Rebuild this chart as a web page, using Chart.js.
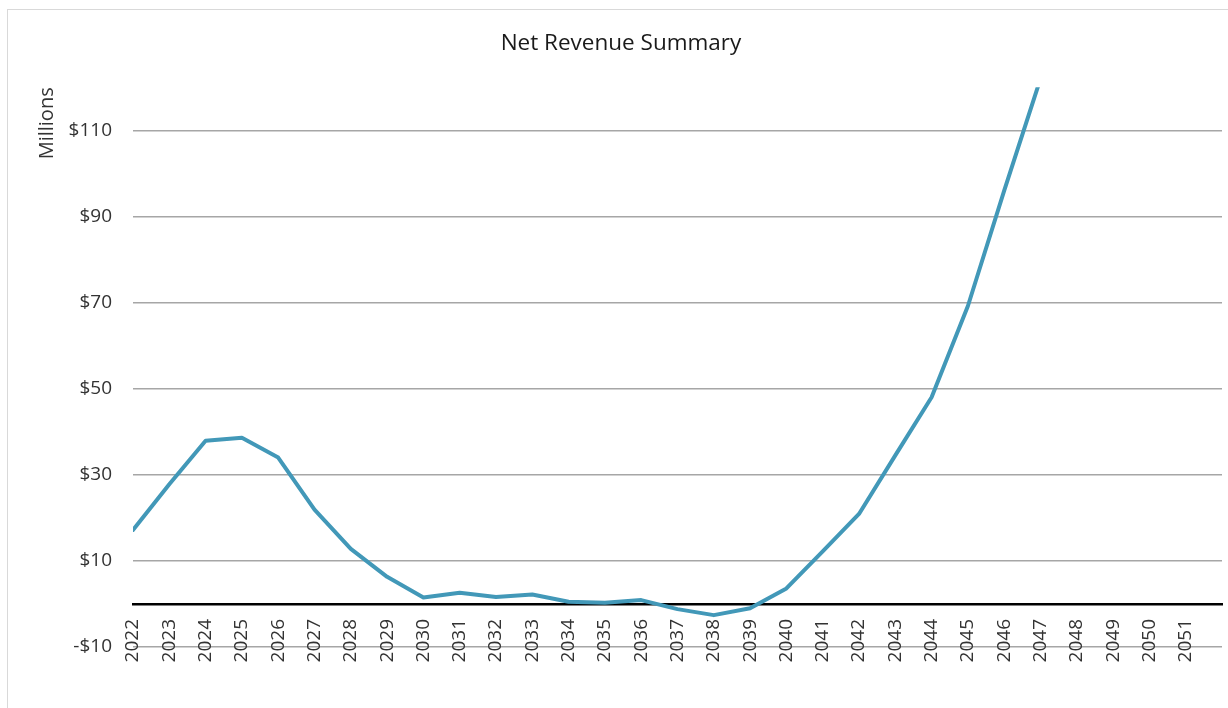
<!DOCTYPE html>
<html lang="en">
<head>
    <meta charset="UTF-8">
    <title>Net Revenue Summary</title>
    <script src="https://cdn.jsdelivr.net/npm/chart.js"></script>
    <style>
        body {
            margin: 0;
            background: #ffffff;
            overflow: hidden;
        }

        .frame {
            position: absolute;
            left: 7px;
            top: 9px;
            width: 1260px;
            height: 740px;
            border: 1.5px solid #d9d9d9;
        }

        #revenueChart {
            position: absolute;
            left: 0;
            top: 0;
        }
    </style>
</head>
<body>
    <div class="frame"></div>
    <canvas id="revenueChart" width="1228" height="708"></canvas>

    <script>
        // Years on the category axis
        const years = ['2022', '2023', '2024', '2025', '2026', '2027', '2028', '2029', '2030', '2031',
                       '2032', '2033', '2034', '2035', '2036', '2037', '2038', '2039', '2040', '2041',
                       '2042', '2043', '2044', '2045', '2046', '2047', '2048', '2049', '2050', '2051'];

        // Net revenue in $ millions, 2022 onwards
        const netRevenue = [17.2, 27.8, 37.9, 38.6, 34.0, 21.9, 12.8, 6.3, 1.5, 2.6,
                            1.6, 2.2, 0.5, 0.3, 0.9, -1.2, -2.6, -1.0, 3.6, 12.2,
                            20.9, 34.5, 48.0, 69.2, 96.0, 122.0];

        const yTicks = [-10, 10, 30, 50, 70, 90, 110];

        const fontFamily = "'Open Sans', sans-serif";

        // one blank slot after 2051 so the axis runs on past the last label
        const axisLabels = [...years, ''];

        function money(v) {
            return v < 0 ? '-$' + Math.abs(v) : '$' + v;
        }

        const ctx = document.getElementById('revenueChart').getContext('2d');
        new Chart(ctx, {
            type: 'line',
            data: {
                labels: axisLabels,
                datasets: [{
                    label: 'Net Revenue',
                    data: netRevenue,
                    borderColor: '#4298b8',
                    borderWidth: 4,
                    borderCapStyle: 'round',
                    borderJoinStyle: 'round',
                    pointRadius: 0,
                    tension: 0,
                    fill: false,
                    clip: 0
                }]
            },
            options: {
                responsive: false,
                animation: false,
                devicePixelRatio: 1,
                layout: {
                    padding: { left: 20, right: 6, top: 0, bottom: 61 }
                },
                plugins: {
                    legend: { display: false },
                    tooltip: { enabled: false },
                    title: {
                        display: true,
                        text: 'Net Revenue Summary',
                        color: '#1a1a1a',
                        font: { family: fontFamily, size: 22.5, weight: 'normal' },
                        padding: { top: 30, bottom: 30.3 }
                    }
                },
                scales: {
                    x: {
                        position: { y: 0 },
                        offset: false,
                        afterFit: scale => {
                            // rotated labels should not push the plot edges inwards
                            scale.paddingLeft = 0;
                            scale.paddingRight = 0;
                        },
                        grid: { display: false, drawTicks: false },
                        border: { display: true, color: '#000000', width: 2.5 },
                        ticks: {
                            autoSkip: false,
                            minRotation: 90,
                            maxRotation: 90,
                            padding: 15,
                            color: '#333333',
                            font: { family: fontFamily, size: 19 }
                        }
                    },
                    y: {
                        min: -10,
                        max: 120,
                        afterBuildTicks: scale => {
                            scale.ticks = yTicks.map(v => ({ value: v }));
                        },
                        afterFit: scale => {
                            scale.width = 113;
                        },
                        grid: { color: '#a6a6a6', lineWidth: 1.5, drawTicks: false },
                        border: { display: false },
                        ticks: {
                            padding: 21,
                            color: '#333333',
                            font: { family: fontFamily, size: 19 },
                            callback: v => money(v)
                        },
                        title: {
                            display: true,
                            text: 'Millions',
                            align: 'end',
                            color: '#333333',
                            font: { family: fontFamily, size: 20 },
                            padding: { top: 15, bottom: 0 }
                        }
                    }
                }
            }
        });
    </script>
</body>
</html>
